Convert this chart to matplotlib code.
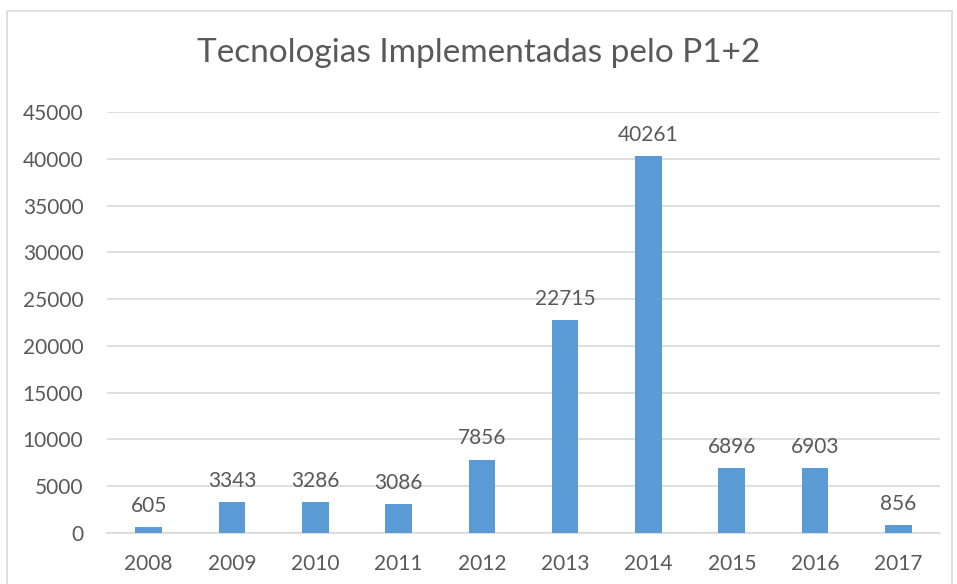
import matplotlib
matplotlib.use("Agg")
import matplotlib.pyplot as plt
from matplotlib.patches import Rectangle
import numpy as np

years = ["2008", "2009", "2010", "2011", "2012", "2013", "2014", "2015", "2016", "2017"]
values = [605, 3343, 3286, 3086, 7856, 22715, 40261, 6896, 6903, 856]
yticks = [0, 5000, 10000, 15000, 20000, 25000, 30000, 35000, 40000, 45000]

BLUE = "#5B9BD5"
TEXT = "#595959"
GRID = "#D9D9D9"

plt.rcParams["font.family"] = ["Lato", "DejaVu Sans"]

fig = plt.figure(figsize=(9.57, 5.84), dpi=100)
ax = fig.add_axes([107 / 957, 1 - 533 / 584, 833 / 957, 421 / 584])

# chart-area border
fig.patches.append(Rectangle((7 / 957, -0.05), 945 / 957, 1 - 11 / 584 + 0.05,
                             transform=fig.transFigure, fill=False,
                             edgecolor="#D9D9D9", linewidth=1.2))

x = np.arange(len(years))
ax.bar(x, values, width=0.32, color=BLUE, zorder=3)
for xi, v in zip(x, values):
    ax.annotate(str(v), (xi, v), xytext=(0, 8), textcoords="offset points",
                ha="center", va="bottom", fontsize=15, color=TEXT)

ax.set_xlim(-0.5, len(years) - 0.5)
ax.set_ylim(0, 45000)
ax.set_yticks(yticks)
ax.set_yticklabels([str(t) for t in yticks])
ax.set_xticks(x)
ax.set_xticklabels(years)
ax.tick_params(axis="both", length=0, labelsize=15, colors=TEXT)
ax.tick_params(axis="y", pad=17)
ax.tick_params(axis="x", pad=15)
ax.grid(axis="y", color=GRID, linewidth=1.2, zorder=0)
for s in ["top", "right", "left"]:
    ax.spines[s].set_visible(False)
ax.spines["bottom"].set_color(GRID)
ax.spines["bottom"].set_linewidth(1.2)

fig.text(0.5, 1 - 53 / 584, "Tecnologias Implementadas pelo P1+2",
         ha="center", va="center", fontsize=24, color=TEXT)

fig.savefig("out.png", dpi=100)
